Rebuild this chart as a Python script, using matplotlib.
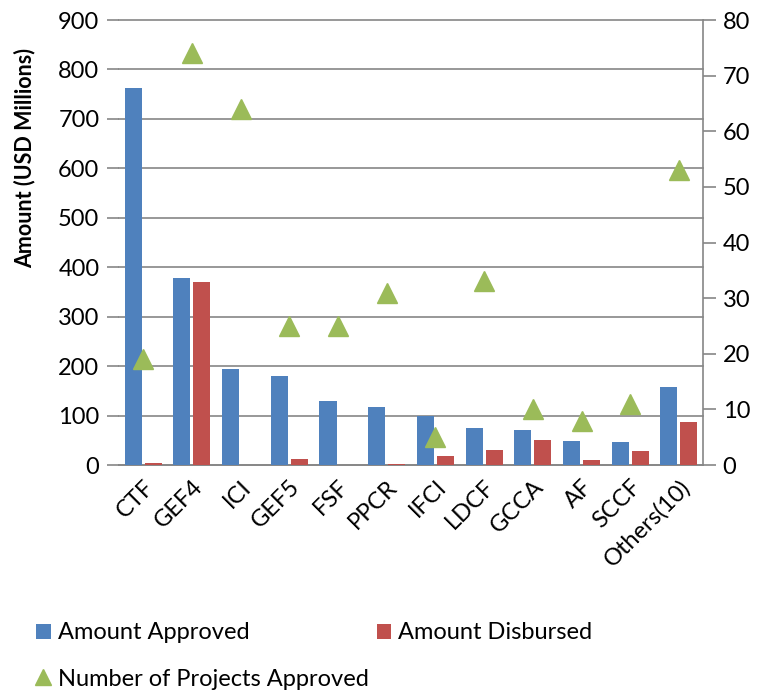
import matplotlib.pyplot as plt
import numpy as np

plt.rcParams['font.family'] = ['Lato', 'DejaVu Sans']

# data
funds = ['CTF', 'GEF4', 'ICI', 'GEF5', 'FSF', 'PPCR', 'IFCI', 'LDCF',
         'GCCA', 'AF', 'SCCF', 'Others(10)']
approved = [763, 378, 195, 181, 130, 117, 100, 75, 71, 49, 47, 157]
disbursed = [5, 370, 0, 12, 0, 2, 18, 30, 50, 10, 28, 87]
projects = [19, 74, 64, 25, 25, 31, 5, 33, 10, 8, 11, 53]

blue = '#4F81BD'
red = '#C0504D'
green = '#9BBB59'
grid_col = '#868686'

fig = plt.figure(figsize=(7.57, 6.91), dpi=100)
ax = fig.add_axes([0.157, 0.327, 0.772, 0.644])
ax2 = ax.twinx()

x = np.arange(len(funds))
w = 0.35
ax.bar(x - 0.205, approved, w, color=blue, zorder=3, label='Amount Approved')
ax.bar(x + 0.205, disbursed, w, color=red, zorder=3, label='Amount Disbursed')
ax2.plot(x, projects, linestyle='none', marker='^', markersize=15,
         color=green, label='Number of Projects Approved', clip_on=False)

ax.set_xlim(-0.5, len(funds) - 0.5)
ax.set_ylim(0, 900)
ax.set_yticks(np.arange(0, 901, 100))
ax2.set_ylim(0, 80)
ax2.set_yticks(np.arange(0, 81, 10))

ax.yaxis.grid(True, color=grid_col, linewidth=1.2, zorder=0)
ax.set_axisbelow(True)
for gl in ax.get_ygridlines():
    gl.set_clip_on(False)

for s in ['top', 'left', 'right']:
    ax.spines[s].set_visible(False)
for s in ['top', 'left', 'bottom']:
    ax2.spines[s].set_visible(False)
ax.spines['bottom'].set_color(grid_col)
ax.spines['bottom'].set_linewidth(1.2)
ax2.spines['right'].set_color(grid_col)
ax2.spines['right'].set_linewidth(1.2)

ax.tick_params(axis='y', length=9, width=1.2, color=grid_col,
               labelsize=17, pad=5)
ax.tick_params(axis='x', length=0, labelsize=17, pad=8)
ax2.tick_params(axis='y', length=9, width=1.2, color=grid_col,
                labelsize=17, pad=5)

ax.set_xticks(x)
ax.set_xticklabels(funds, rotation=45, ha='right', rotation_mode='anchor')
ax.set_ylabel('Amount (USD Millions)', fontsize=15.5, fontweight='bold')
ax.yaxis.set_label_coords(-0.142, 0.69)

# legend below the plot
h1, l1 = ax.get_legend_handles_labels()
h2, l2 = ax2.get_legend_handles_labels()
fig.legend(h1, l1, loc='upper left', bbox_to_anchor=(0.02, 0.13), ncol=2,
           frameon=False, fontsize=17, handlelength=0.6, handleheight=0.6,
           handletextpad=0.3, columnspacing=5.4)
fig.legend(h2, l2, loc='upper left', bbox_to_anchor=(0.02, 0.063),
           frameon=False, fontsize=17, handlelength=0.6, markerscale=0.8,
           handletextpad=0.3)

fig.savefig('out.png', dpi=100)
